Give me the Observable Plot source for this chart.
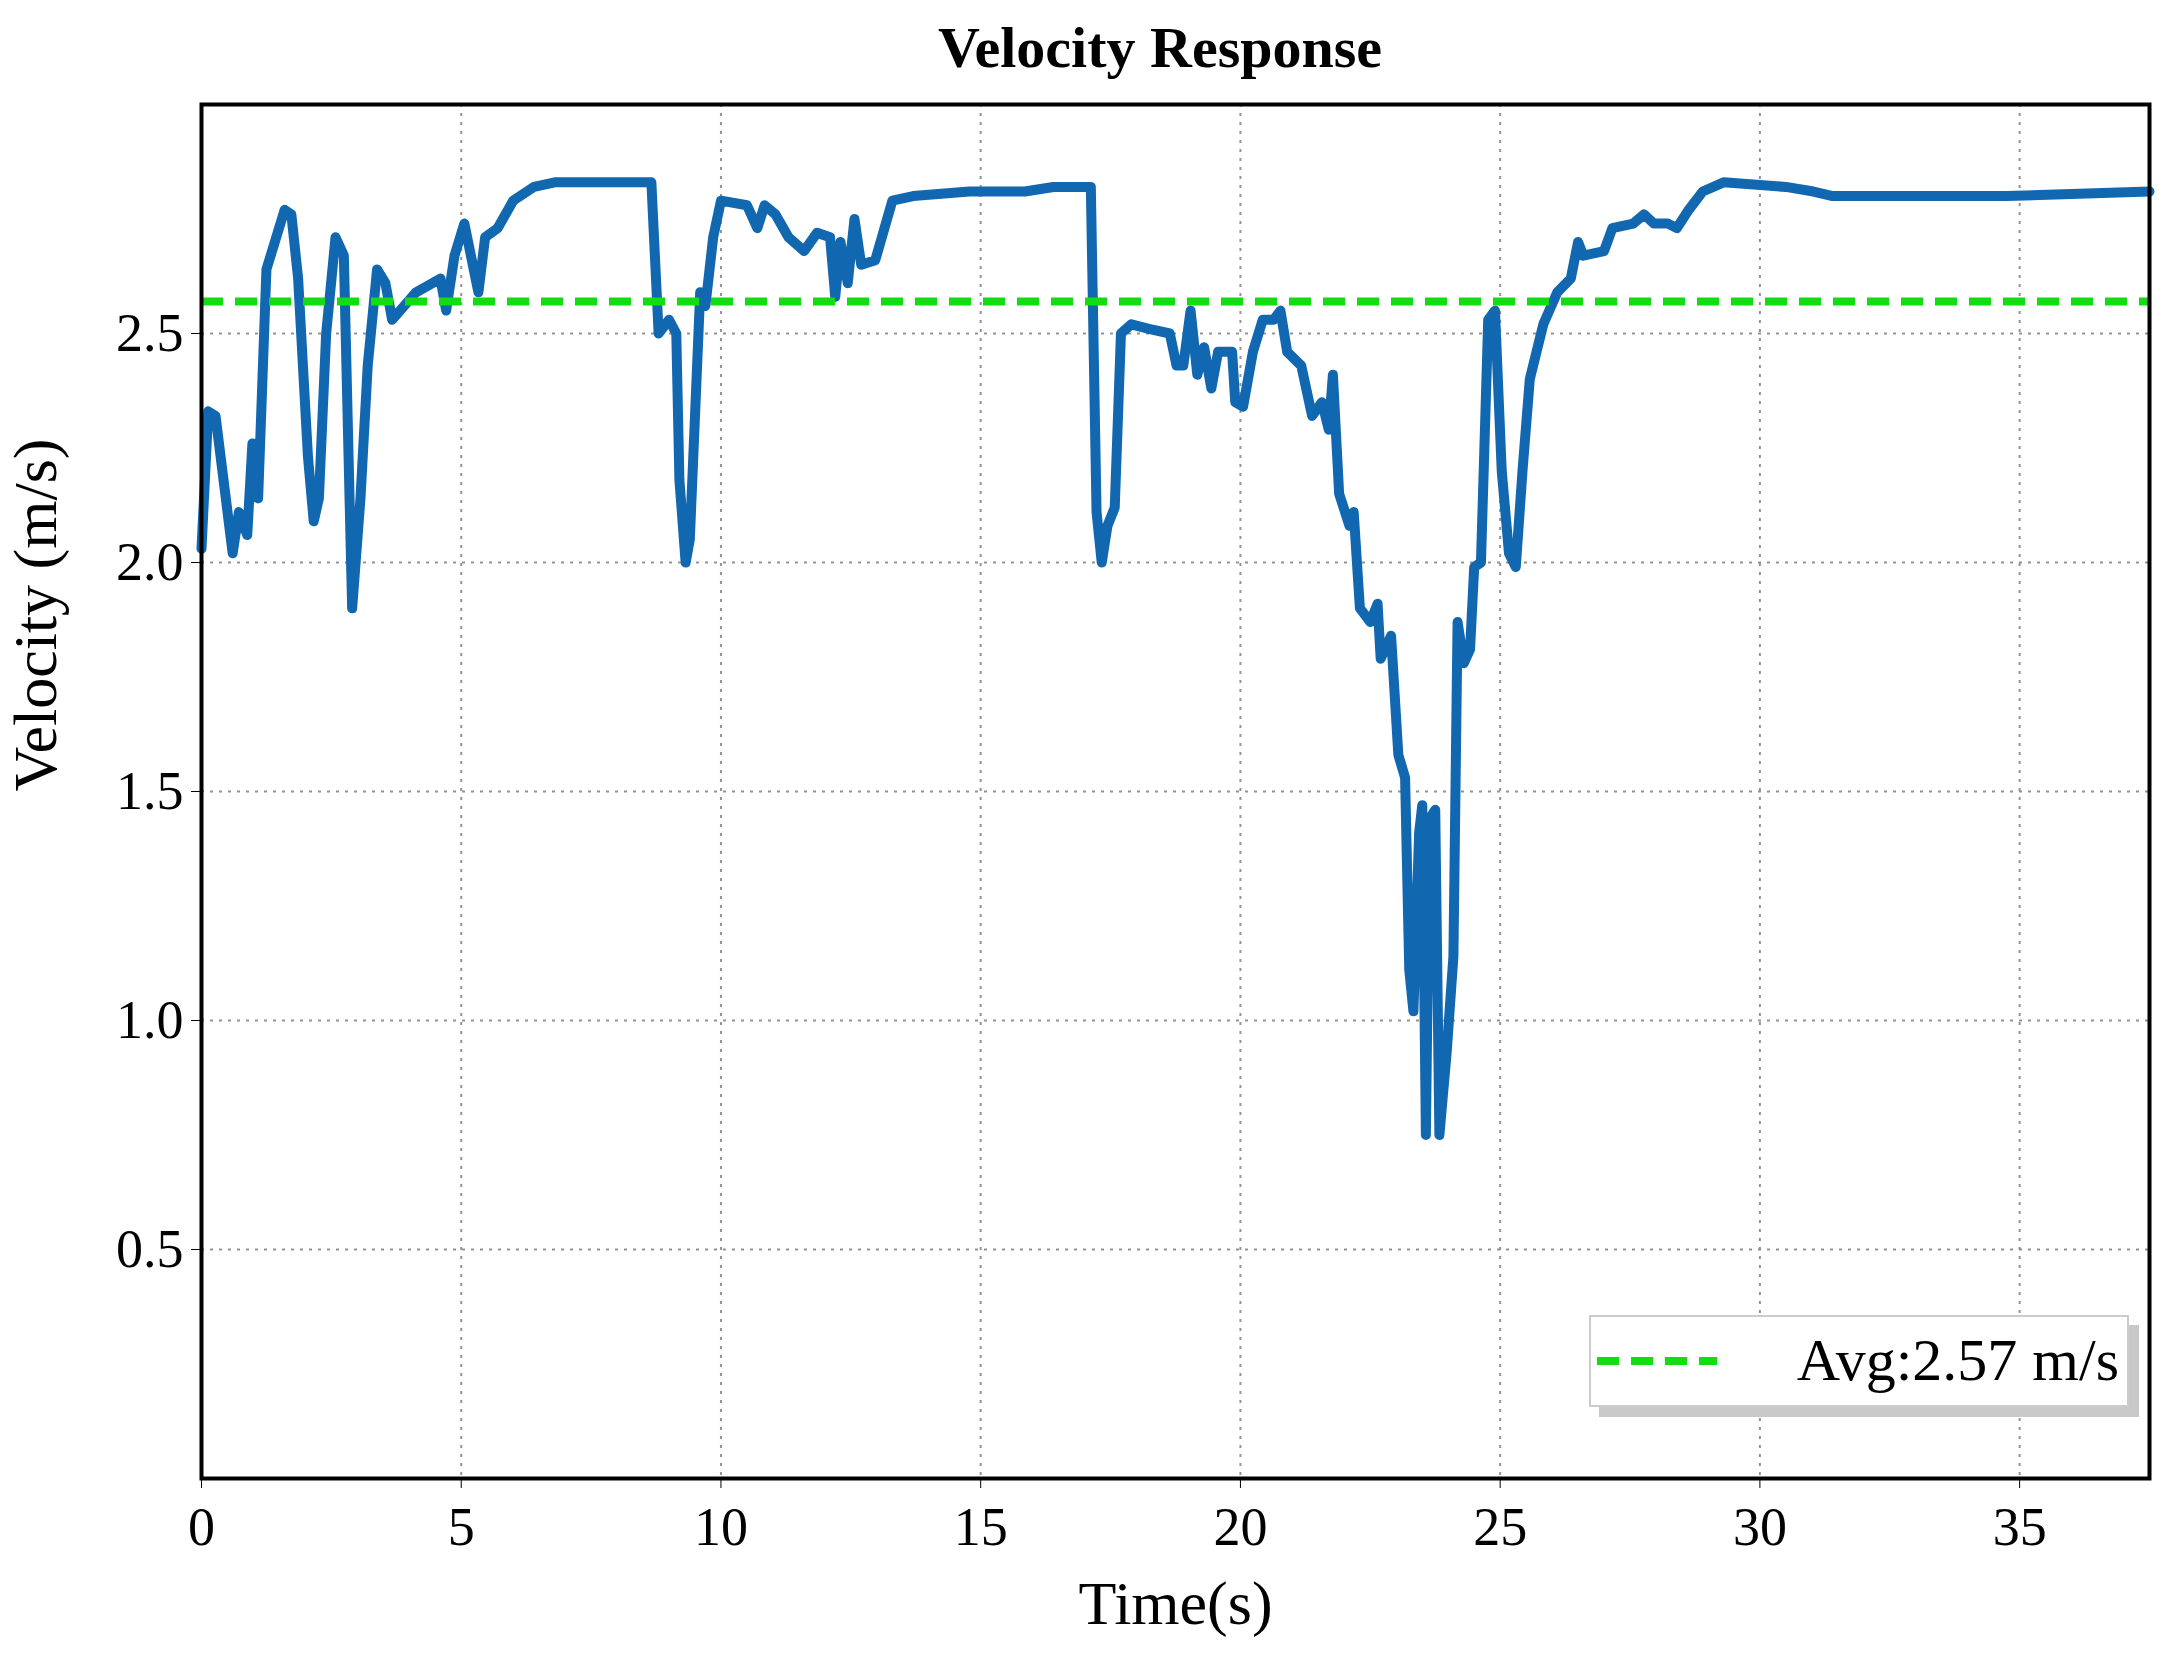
<!DOCTYPE html>
<html><head><meta charset="utf-8">
<script src="https://cdn.jsdelivr.net/npm/d3@7"></script>
<script src="https://cdn.jsdelivr.net/npm/@observablehq/plot@0.6"></script>
<style>
body{margin:0;background:#fff;font-family:"Liberation Serif",serif;}
#title{height:90px;line-height:96px;text-align:center;font-weight:bold;font-size:58px;padding-left:150px}
#wrap{position:relative;width:2170px}
#legend{position:absolute;left:1589px;top:1225px;width:540px;height:92px;border:2px solid #ccc;background:#fff;box-shadow:10px 10px 0 #c8c8c8;box-sizing:border-box}
</style></head><body>
<div id="title">Velocity Response</div>
<div id="wrap"><div id="chart"></div>
<div id="legend"><svg width="540" height="88" style="position:absolute;left:0;top:0"><line x1="6" x2="126" y1="44" y2="44" stroke="#11dd11" stroke-width="8" stroke-dasharray="22,12"/><text x="528" y="63" text-anchor="end" font-family="Liberation Serif" font-size="60">Avg:2.57 m/s</text></svg></div>
</div>
<script>
const time = [0,0.13,0.27,0.6,0.72,0.88,0.98,1.09,1.25,1.6,1.73,1.86,2.05,2.16,2.26,2.4,2.58,2.74,2.9,3.06,3.2,3.38,3.54,3.67,4.13,4.6,4.71,4.87,5.06,5.33,5.46,5.7,6.0,6.4,6.8,8.66,8.8,9.0,9.14,9.2,9.32,9.4,9.6,9.7,9.85,10.0,10.5,10.7,10.84,11.05,11.3,11.6,11.85,12.1,12.2,12.3,12.44,12.57,12.7,12.97,13.3,13.7,14.78,15.85,16.4,17.12,17.23,17.33,17.44,17.58,17.7,17.9,18.24,18.64,18.77,18.9,19.04,19.17,19.3,19.44,19.57,19.84,19.9,20.05,20.24,20.43,20.64,20.77,20.9,21.17,21.38,21.57,21.7,21.78,21.9,22.1,22.18,22.3,22.5,22.64,22.7,22.9,23.04,23.17,23.25,23.33,23.44,23.5,23.57,23.64,23.75,23.83,23.97,24.1,24.18,24.3,24.42,24.5,24.63,24.77,24.9,25.03,25.17,25.3,25.43,25.57,25.83,26.1,26.36,26.5,26.6,27.0,27.16,27.56,27.77,27.96,28.23,28.4,28.63,28.9,29.3,30.5,31.03,31.4,31.96,33.4,34.75,37.5];
const velocity = [2.03,2.33,2.32,2.02,2.11,2.06,2.26,2.14,2.64,2.77,2.76,2.62,2.23,2.09,2.14,2.5,2.71,2.67,1.9,2.14,2.43,2.64,2.61,2.53,2.59,2.62,2.55,2.67,2.74,2.59,2.71,2.73,2.79,2.82,2.83,2.83,2.5,2.53,2.5,2.18,2.0,2.05,2.59,2.56,2.71,2.79,2.78,2.73,2.78,2.76,2.71,2.68,2.72,2.71,2.58,2.7,2.61,2.75,2.65,2.66,2.79,2.8,2.81,2.81,2.82,2.82,2.11,2.0,2.08,2.12,2.5,2.52,2.51,2.5,2.43,2.43,2.55,2.41,2.47,2.38,2.46,2.46,2.35,2.34,2.46,2.53,2.53,2.55,2.46,2.43,2.32,2.35,2.29,2.41,2.15,2.08,2.11,1.9,1.87,1.91,1.79,1.84,1.58,1.53,1.11,1.02,1.41,1.47,0.75,1.44,1.46,0.75,0.93,1.14,1.87,1.78,1.81,1.99,2.0,2.53,2.55,2.2,2.02,1.99,2.2,2.4,2.52,2.59,2.62,2.7,2.67,2.68,2.73,2.74,2.76,2.74,2.74,2.73,2.77,2.81,2.83,2.82,2.81,2.8,2.8,2.8,2.8,2.81];
const avg = 2.57;
const xTicks = [0,5,10,15,20,25,30,35];
const yTicks = [0.5,1.0,1.5,2.0,2.5];
const data = time.map((t,i)=>({t, v: velocity[i]}));
const chart = Plot.plot({
  width: 2170, height: 1572,
  marginLeft: 201, marginRight: 21, marginTop: 14, marginBottom: 184,
  style: {fontFamily: "Liberation Serif", fontSize: "52px", color: "#000", background: "#fff"},
  x: {domain: [0, 37.5], ticks: xTicks, label: null},
  y: {domain: [0, 3.0], ticks: yTicks, label: null, tickFormat: d3.format(".1f")},
  marks: [
    Plot.gridX(xTicks, {stroke: "#888", strokeOpacity: 0.9, strokeDasharray: "3,6", strokeWidth: 2}),
    Plot.gridY(yTicks, {stroke: "#888", strokeOpacity: 0.9, strokeDasharray: "3,6", strokeWidth: 2}),
    Plot.line(data, {x: "t", y: "v", stroke: "#1168b0", strokeWidth: 10, strokeLinejoin: "round"}),
    Plot.ruleY([avg], {stroke: "#11dd11", strokeWidth: 8, strokeDasharray: "22,12"}),
    Plot.axisX(xTicks, {tickSize: 10, tickPadding: 18, fontSize: 54, label: null}),
    Plot.axisY(yTicks, {tickSize: 10, tickPadding: 8, fontSize: 54, tickFormat: d3.format(".1f"), label: null}),
    Plot.text(["Time(s)"], {frameAnchor: "bottom", dy: 145, fontSize: 62}),
    Plot.text(["Velocity (m/s)"], {frameAnchor: "left", dx: -165, rotate: -90, fontSize: 62}),
    Plot.frame({stroke: "#000", strokeWidth: 4})
  ]
});
document.getElementById("chart").appendChild(chart);
</script></body></html>
